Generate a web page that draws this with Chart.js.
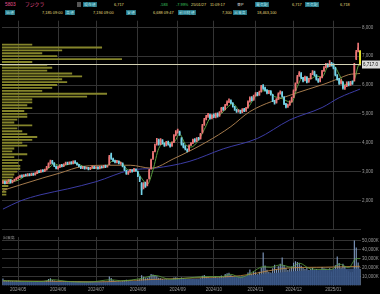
<!DOCTYPE html>
<html>
<head>
<meta charset="utf-8">
<script src="https://cdn.jsdelivr.net/npm/chart.js@4.4.1/dist/chart.umd.min.js"></script>
<style>
  body { margin:0; background:#000; width:380px; height:294px; overflow:hidden; position:relative;
         font-family:"Liberation Sans","Noto Sans CJK JP",sans-serif; }
  .hd { position:absolute; font-size:3.9px; line-height:5px; white-space:nowrap; }
  .big { font-size:4.8px; }
  .lb { background:#23707f; color:#b6f0fb; padding:0 1px; }
  .pk { color:#e8508f; }
  .yl { color:#e2dd7c; }
  .gr { color:#3ccf62; }
  .wt { color:#dddddd; }
  .gy { color:#9a9a9a; }
  #pbox { position:absolute; left:0; top:17px; width:380px; height:216px; }
  #vbox { position:absolute; left:0; top:233px; width:380px; height:61px; }
</style>
</head>
<body>
<span class="hd big pk" style="left:5px;top:2px">5803</span>
<span class="hd big pk" style="left:25px;top:2px">フジクラ</span>
<span class="hd" style="left:77px;top:2px;width:4px;height:5px;background:#555"></span>
<span class="hd lb" style="left:83px;top:2px">現在値</span>
<span class="hd yl" style="left:114px;top:2px">6,717</span>
<span class="hd gr" style="left:160px;top:2px">-583</span>
<span class="hd gr" style="left:176px;top:2px">-7.99%</span>
<span class="hd yl" style="left:191px;top:2px">25/01/27</span>
<span class="hd yl" style="left:210px;top:2px">11:09:17</span>
<span class="hd wt" style="left:237px;top:2px">東P</span>
<span class="hd lb" style="left:255px;top:2px">買気配</span>
<span class="hd yl" style="left:292px;top:2px">6,717</span>
<span class="hd lb" style="left:305px;top:2px">売気配</span>
<span class="hd yl" style="left:340px;top:2px">6,718</span>

<span class="hd lb" style="left:5px;top:10px">始値</span>
<span class="hd yl" style="left:42px;top:10px">7,185 09:00</span>
<span class="hd lb" style="left:65px;top:10px">高値</span>
<span class="hd yl" style="left:93px;top:10px">7,194 09:00</span>
<span class="hd lb" style="left:126px;top:10px">安値</span>
<span class="hd yl" style="left:153px;top:10px">6,688 09:47</span>
<span class="hd lb" style="left:178px;top:10px">前日終値</span>
<span class="hd yl" style="left:222px;top:10px">7,300</span>
<span class="hd lb" style="left:233px;top:10px">出来高</span>
<span class="hd yl" style="left:257px;top:10px">18,463,100</span>

<div id="pbox"><canvas id="priceChart"></canvas></div>
<div id="vbox"><canvas id="volChart"></canvas></div>
<span class="hd gy" style="left:3px;top:235px">出来高</span>

<script>
// trading days per month (categories)
const tradingDays = [
  ['2024/04', [18,19,22,23,24,25,26,30]],
  ['2024/05', [1,2,7,8,9,10,13,14,15,16,17,20,21,22,23,24,27,28,29,30,31]],
  ['2024/06', [3,4,5,6,7,10,11,12,13,14,17,18,19,20,21,24,25,26,27,28]],
  ['2024/07', [1,2,3,4,5,8,9,10,11,12,16,17,18,19,22,23,24,25,26,29,30,31]],
  ['2024/08', [1,2,5,6,7,8,9,13,14,15,16,19,20,21,22,23,26,27,28,29,30]],
  ['2024/09', [2,3,4,5,6,9,10,11,12,13,17,18,19,20,24,25,26,27,30]],
  ['2024/10', [1,2,3,4,7,8,9,10,11,15,16,17,18,21,22,23,24,25,28,29,30,31]],
  ['2024/11', [1,5,6,7,8,11,12,13,14,15,18,19,20,21,22,25,26,27,28,29]],
  ['2024/12', [2,3,4,5,6,9,10,11,12,13,16,17,18,19,20,23,24,25,26,27,30]],
  ['2025/01', [6,7,8,9,10,14,15,16,17,20,21,22,23,24,27]]
];
const monthTicks = ['2024/05','2024/06','2024/07','2024/08','2024/09','2024/10','2024/11','2024/12','2025/01'];
const priceTicks = [1000,2000,3000,4000,5000,6000,7000,8000];
const volTicks = [10000,20000,30000,40000,50000];

const opens = [
  2620,2660,2600,2650,2710,2630,2690,2720,
  2770,2810,2860,2840,2890,2860,2910,2880,2930,2900,2950,3010,2990,3050,3020,3070,3160,3290,3370,3290,3180,
  3110,3160,3230,3190,3260,3310,3280,3330,3290,3350,3290,3230,3170,3130,3150,3110,3130,3090,3140,3160,
  3130,3160,3110,3170,3150,3210,3170,3250,3600,3440,3370,3320,3350,3280,3290,3160,3030,2930,2990,3050,3020,3080,
  3000,2800,2600,2450,2600,2520,2760,3100,3450,3700,3950,4100,3960,4080,3970,3910,4030,3940,3890,4020,4270,
  4400,4380,4150,3960,3860,3750,3740,3920,3990,4110,4060,4160,4140,4350,4620,4820,4920,4960,4860,
  4970,4880,5010,4930,5070,5210,5160,5310,5420,5460,5370,5240,5140,5090,5110,5060,5160,5110,5220,5440,5560,5490,
  5640,5710,5660,5770,5980,5900,5810,5730,5790,5660,5440,5390,5520,5710,5750,5580,5340,5260,5310,5430,
  5580,5820,6080,6330,6400,6240,6160,6270,6110,6220,6390,6460,6340,6190,6130,6270,6490,6620,6710,6660,6760,
  6700,6590,6330,6210,6060,6100,5890,5960,6090,6010,6120,6150,6900,7200,7185
];
const highs = [
  2680,2670,2660,2720,2720,2700,2740,2790,
  2830,2880,2890,2900,2910,2930,2930,2950,2950,2970,3030,3040,3060,3070,3090,3180,3300,3400,3390,3310,3200,
  3180,3240,3250,3270,3330,3330,3340,3350,3370,3380,3310,3250,3190,3180,3170,3160,3150,3150,3190,3180,
  3170,3170,3180,3190,3220,3230,3210,3560,3640,3470,3400,3390,3370,3330,3300,3180,3050,3010,3080,3070,3110,3100,
  3020,2830,2620,2620,2640,2720,3080,3430,3700,3950,4150,4130,4140,4110,4000,4050,4060,3970,4030,4280,4420,
  4470,4400,4180,3990,3900,3790,3930,4010,4130,4140,4180,4190,4330,4640,4850,4950,5020,4990,4980,
  5000,5030,5040,5080,5230,5240,5330,5450,5520,5490,5390,5260,5170,5150,5130,5180,5190,5230,5450,5590,5600,5650,
  5740,5750,5790,5990,6020,5930,5840,5810,5810,5680,5470,5530,5730,5800,5770,5600,5370,5340,5450,5580,
  5830,6080,6340,6470,6430,6270,6310,6290,6230,6410,6500,6480,6360,6220,6280,6510,6640,6750,6740,6850,6790,
  6740,6610,6360,6230,6190,6120,5990,6110,6120,6130,6150,6750,7200,7450,7194
];
const lows = [
  2600,2570,2580,2640,2600,2610,2670,2700,
  2750,2790,2800,2820,2840,2840,2850,2860,2870,2880,2930,2960,2970,2990,3000,3050,3140,3260,3270,3170,3090,
  3080,3140,3160,3170,3240,3240,3260,3260,3270,3280,3220,3160,3100,3100,3080,3090,3060,3070,3120,3100,
  3110,3080,3090,3120,3130,3140,3150,3240,3420,3350,3300,3300,3270,3250,3160,3030,2900,2900,2970,2980,3000,3010,
  2820,2650,2200,2400,2450,2500,2740,3080,3420,3680,3920,3920,3930,3950,3870,3890,3920,3850,3870,4000,4240,
  4330,4250,3920,3820,3750,3680,3720,3900,3970,4020,4040,4090,4120,4330,4600,4790,4880,4820,4830,
  4870,4860,4890,4910,5050,5120,5140,5290,5390,5350,5230,5120,5050,5060,5020,5040,5080,5090,5200,5410,5450,5470,
  5610,5620,5640,5750,5850,5790,5690,5700,5650,5420,5340,5370,5500,5680,5580,5320,5210,5220,5290,5410,
  5560,5800,6060,6300,6220,6110,6140,6070,6090,6200,6360,6320,6170,6090,6110,6250,6470,6590,6620,6640,6650,
  6560,6320,6170,6020,6030,5860,5850,5940,5970,5990,6020,6130,6880,7150,6688
];
const closes = [
  2650,2590,2640,2700,2620,2680,2710,2760,
  2800,2850,2830,2880,2860,2900,2870,2920,2890,2950,3000,2980,3040,3010,3060,3150,3280,3360,3300,3190,3120,
  3150,3220,3180,3250,3300,3270,3320,3280,3340,3300,3240,3180,3120,3160,3100,3140,3080,3130,3170,3120,
  3150,3100,3160,3140,3200,3160,3180,3520,3450,3380,3330,3360,3290,3300,3180,3050,2920,2980,3060,3010,3090,3040,
  2850,2700,2350,2550,2480,2700,3050,3400,3650,3900,4080,3950,4100,3980,3900,4020,3950,3880,4000,4250,4380,
  4420,4300,3950,3850,3780,3720,3900,3980,4100,4050,4150,4120,4300,4600,4800,4900,4980,4850,4950,
  4900,5000,4920,5050,5200,5150,5300,5400,5450,5380,5250,5150,5080,5120,5050,5150,5100,5200,5420,5550,5480,5620,
  5700,5650,5760,5950,5880,5820,5720,5780,5680,5450,5380,5500,5700,5760,5600,5350,5250,5300,5420,5550,
  5800,6050,6300,6420,6250,6150,6280,6100,6200,6380,6450,6350,6200,6120,6250,6480,6600,6700,6650,6750,6680,
  6600,6350,6200,6050,6150,5900,5950,6080,6000,6100,6050,6700,7150,7300,6717
];
// volume in thousand shares
const volumes = [
  7800,6000,5200,5600,4800,5000,4600,5300,
  4800,5200,4600,4400,4100,4300,3900,4200,4000,4500,5100,4400,4700,4200,4600,5400,7400,8200,6200,5600,5000,
  4600,4900,4300,4700,5100,4200,4400,4000,4600,4300,4100,4500,4200,3800,3900,3700,3600,3900,4100,3800,
  3900,3700,4000,3800,4200,3900,4100,10200,8400,6200,5100,4600,4800,4500,5000,5600,6400,5200,4900,4600,4800,4700,
  6100,7000,11500,9800,8200,8800,10600,12800,12300,11600,10400,8800,8200,7400,6900,7100,6600,6200,6800,8900,9400,
  8200,7600,9100,8200,7400,6800,7200,6900,7400,6800,7100,6600,8100,10900,11800,9800,9200,8400,8700,
  9200,10100,8700,9400,11200,9600,12800,13600,14200,11800,10400,9800,9100,8900,8600,9300,8800,9900,14500,17800,13200,15600,
  14800,12600,15400,19800,36800,22400,17600,15200,14600,19400,23100,18200,21600,24300,31200,22800,19600,17400,18800,21200,
  25400,27100,26200,24800,22100,19600,18400,20300,17200,18800,19900,17600,18400,16300,17100,20800,19200,18600,16900,19400,15800,
  18200,22600,32400,25100,19800,24300,21200,17600,15900,14800,15200,50200,42300,25600,18463
];

// moving averages: [day index, value]
const ma5Pts = [[0,2630],[4,2640],[8,2700],[12,2850],[16,2890],[20,2990],[24,3110],[27,3270],[30,3200],[34,3240],
  [38,3300],[42,3190],[46,3110],[50,3130],[54,3170],[58,3370],[62,3330],[66,3060],[70,3040],[73,2770],[76,2560],
  [79,3060],[82,3800],[86,4000],[90,4020],[93,4300],[96,3950],[99,3850],[103,4090],[106,4460],[110,4930],[114,4970],
  [118,5220],[121,5350],[125,5110],[129,5220],[132,5520],[136,5790],[140,5810],[143,5600],[146,5560],[149,5460],
  [152,5390],[155,5950],[158,6260],[162,6220],[165,6310],[168,6280],[171,6630],[174,6680],[177,6370],[180,6020],
  [183,6040],[185,6180],[187,6660],[188,6780]];
const ma25Pts = [[0,2350],[21,2780],[30,2950],[42,3180],[56,3220],[67,3220],[78,3120],[90,3450],[107,4020],
  [120,4560],[130,5080],[153,5690],[169,6030],[177,6230],[182,6360],[188,6400]];
const ma75Pts = [[0,1700],[9,1980],[20,2200],[34,2400],[49,2650],[67,3050],[80,3120],[98,3350],[116,3790],
  [134,4150],[151,4790],[168,5220],[177,5560],[188,5860]];

const volAvgPts = [[0,4500],[30,4600],[60,4500],[80,6500],[100,7500],[120,9500],[140,13500],[160,17000],[175,18500],[188,19000]];
const volMa5Pts = [[0,5600],[10,4700],[20,4500],[26,6500],[35,4400],[45,3900],[57,6500],[62,5400],[73,8000],[80,11300],
  [88,7000],[95,8000],[107,10000],[115,10000],[120,12500],[125,9000],[131,14500],[137,21000],[141,20500],[146,23000],
  [152,20500],[156,25000],[162,18500],[168,18000],[173,18000],[177,24000],[182,20000],[186,30000],[188,30000]];
const volMa25Pts = [[0,5200],[25,4800],[50,4200],[75,6500],[100,8500],[125,11000],[150,19500],[170,20500],[188,21500]];

// volume by price (left side profile)
const profPrices = [2200,2300,2400,2500,2600,2700,2800,2900,3000,3100,3200,3300,3400,3500,3600,3700,3800,3900,
  4000,4100,4200,4300,4400,4500,4600,4700,4800,4900,5000,5100,5200,5300,5400,5500,5600,5700,5800,5900,
  6000,6100,6200,6300,6400,6500,6600,6700,6800,6900,7000,7100,7200,7300,7400];
const profVolumes = [10000,10000,12500,15000,20000,25000,27500,30000,37500,45000,45000,40000,50000,30000,62500,25000,
  30000,62500,50000,75000,87500,62500,50000,37500,75000,30000,37500,62500,62500,55000,75000,62500,75000,75000,
  212500,262500,100000,125000,137500,162500,150000,200000,175000,112500,125000,112500,75000,300000,137500,100000,
  150000,250000,75000];

const currentPrice = 6717;

// ---------- derived ----------
const dates = [];
tradingDays.forEach(([m, ds]) => ds.forEach(d => dates.push(m + '/' + String(d).padStart(2, '0'))));
const n = dates.length;
const monthStart = dates.map((d, i) => monthTicks.includes(d.slice(0, 7)) && (i === 0 || dates[i - 1].slice(0, 7) !== d.slice(0, 7)));

function sparse(pts) {
  const a = new Array(n).fill(null);
  pts.forEach(([i, v]) => { a[i] = v; });
  return a;
}

const upColor = '#ec7676', downColor = '#74d4e8', todayColor = '#e6e62c';
const candleColors = closes.map((c, i) => i === n - 1 ? todayColor : (c >= opens[i] ? upColor : downColor));
const gridColor = '#343434';

Chart.defaults.font.family = '"Liberation Sans", sans-serif';
Chart.defaults.font.size = 4.5;
Chart.defaults.color = '#9a9a9a';

const xGrid = {
  offset: false,
  drawTicks: false,
  color: (ctx) => monthStart[ctx.index] ? gridColor : 'rgba(0,0,0,0)'
};

const lastPricePlugin = {
  id: 'lastPrice',
  afterDatasetsDraw(chart) {
    const { ctx, chartArea, scales: { y } } = chart;
    const py = Math.round(y.getPixelForValue(currentPrice)) + 0.5;
    ctx.save();
    ctx.strokeStyle = '#d4d2b4';
    ctx.lineWidth = 1;
    ctx.beginPath();
    ctx.moveTo(0, py);
    ctx.lineTo(chartArea.right, py);
    ctx.stroke();
    ctx.fillStyle = '#dcdcdc';
    ctx.fillRect(chartArea.right + 1, py - 4, chart.width - chartArea.right - 1, 8);
    ctx.fillStyle = '#111';
    ctx.font = '4.5px "Liberation Sans"';
    ctx.textBaseline = 'middle';
    ctx.fillText(currentPrice.toLocaleString('en-US', { minimumFractionDigits: 1 }), chartArea.right + 2, py + 0.5);
    ctx.restore();
  }
};

function maLine(label, pts, color) {
  return {
    type: 'line', label: label, data: sparse(pts), borderColor: color, borderWidth: 1,
    pointRadius: 0, spanGaps: true, cubicInterpolationMode: 'monotone', order: 5
  };
}

new Chart(document.getElementById('priceChart'), {
  type: 'bar',
  data: {
    labels: dates,
    datasets: [
      {
        label: 'body', data: opens.map((o, i) => [o, closes[i]]), backgroundColor: candleColors,
        grouped: false, barPercentage: 0.8, categoryPercentage: 1, order: 1
      },
      {
        label: 'wick', data: lows.map((l, i) => [l, highs[i]]), backgroundColor: candleColors,
        grouped: false, barThickness: 1, order: 2
      },
      maLine('5', ma5Pts, '#5aa040'),
      maLine('25', ma25Pts, '#a47a4c'),
      maLine('75', ma75Pts, '#3c3ca4'),
      {
        label: 'profile', indexAxis: 'y', xAxisID: 'xp', yAxisID: 'y',
        data: profPrices.map((p, i) => ({ x: profVolumes[i], y: p })),
        backgroundColor: '#85852b', barThickness: 1.2, grouped: false, order: 10
      }
    ]
  },
  options: {
    responsive: true,
    maintainAspectRatio: false,
    animation: false,
    layout: { padding: { left: 2, right: 0, top: 0, bottom: 0 } },
    plugins: { legend: { display: false }, tooltip: { enabled: false } },
    scales: {
      x: {
        type: 'category', offset: true, grid: xGrid,
        ticks: { display: false }, border: { display: false }
      },
      xp: { type: 'linear', axis: 'x', position: 'bottom', display: false, min: 0, max: 900000, offset: false },
      y: {
        type: 'linear', position: 'right', min: 1000, max: 8230, offset: false, beginAtZero: false,
        grid: { color: gridColor, drawTicks: false, offset: false },
        border: { display: false },
        ticks: {
          padding: 1,
          callback: (v) => v === 1000 ? '' : v.toLocaleString('en-US')
        },
        afterBuildTicks: (s) => { s.ticks = priceTicks.map(v => ({ value: v })); },
        afterFit: (s) => { s.width = 19; }
      }
    }
  },
  plugins: [lastPricePlugin]
});

new Chart(document.getElementById('volChart'), {
  type: 'bar',
  data: {
    labels: dates,
    datasets: [
      {
        type: 'line', label: 'vol5', data: sparse(volMa5Pts), borderColor: '#5aa040', borderWidth: 0.8,
        pointRadius: 0, spanGaps: true, cubicInterpolationMode: 'monotone', order: 1
      },
      {
        type: 'line', label: 'vol25', data: sparse(volMa25Pts), borderColor: '#c48a40', borderWidth: 0.8,
        pointRadius: 0, spanGaps: true, cubicInterpolationMode: 'monotone', order: 1
      },
      {
        type: 'line', label: 'volAvg', data: sparse(volAvgPts), borderWidth: 0, fill: 'origin',
        backgroundColor: 'rgba(52,80,126,0.9)', pointRadius: 0, spanGaps: true,
        cubicInterpolationMode: 'monotone', order: 2
      },
      {
        label: 'volume', data: volumes, backgroundColor: '#7e98be',
        barPercentage: 0.6, categoryPercentage: 1, order: 3
      }
    ]
  },
  options: {
    responsive: true,
    maintainAspectRatio: false,
    animation: false,
    layout: { padding: { left: 2, right: 0, top: 4, bottom: 1 } },
    plugins: { legend: { display: false }, tooltip: { enabled: false } },
    scales: {
      x: {
        type: 'category', offset: true, grid: xGrid, border: { display: false },
        ticks: {
          autoSkip: false, maxRotation: 0, minRotation: 0, padding: 1,
          callback: (v, i) => monthStart[i] ? dates[i].slice(0, 7) : ''
        }
      },
      y: {
        type: 'linear', position: 'right', min: 0, max: 54000,
        grid: { color: gridColor, drawTicks: false },
        border: { display: false },
        ticks: {
          padding: 1,
          callback: (v) => v.toLocaleString('en-US') + 'K'
        },
        afterBuildTicks: (s) => { s.ticks = volTicks.map(v => ({ value: v })); },
        afterFit: (s) => { s.width = 19; }
      }
    }
  }
});
</script>
</body>
</html>
